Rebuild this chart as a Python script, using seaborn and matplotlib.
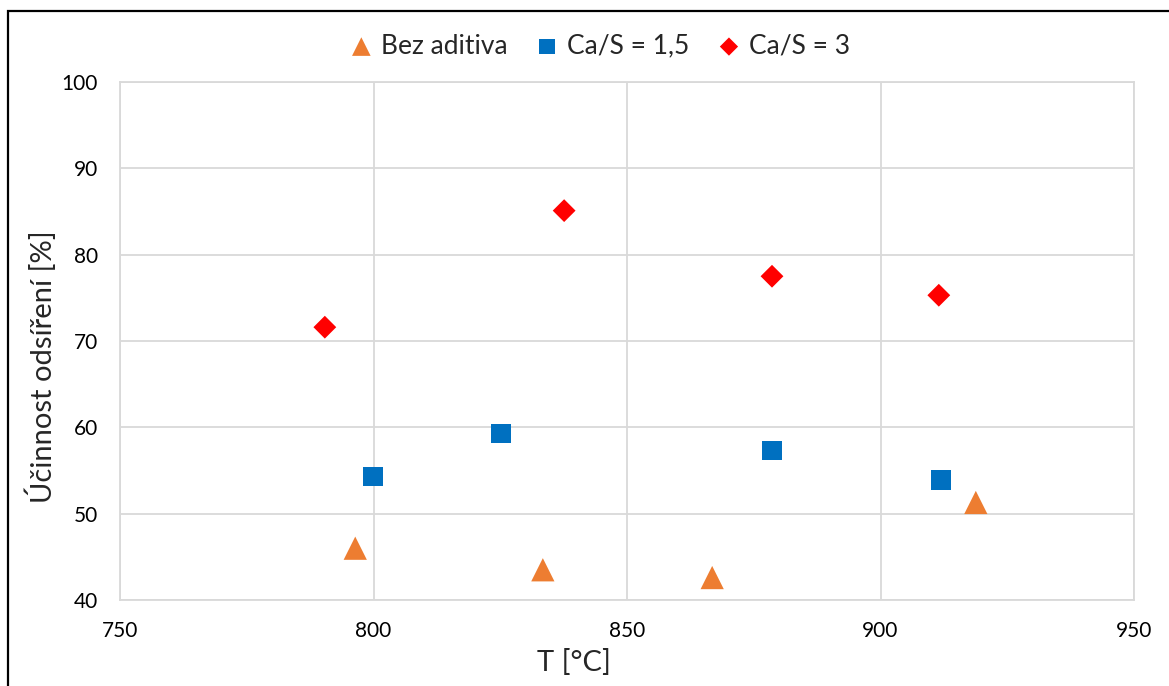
import matplotlib
matplotlib.use("Agg")
import matplotlib.pyplot as plt
import seaborn as sns
import pandas as pd
from matplotlib.patches import Rectangle

# Desulfurization efficiency vs. bed temperature
t_bez = [796.4, 833.4, 866.8, 918.8]
eff_bez = [46.0, 43.5, 42.6, 51.3]

t_ca15 = [799.9, 825.1, 878.6, 911.9]
eff_ca15 = [54.3, 59.3, 57.3, 53.9]

t_ca3 = [790.4, 837.6, 878.6, 911.5]
eff_ca3 = [71.6, 85.1, 77.5, 75.3]

series_names = ["Bez aditiva", "Ca/S = 1,5", "Ca/S = 3"]
x_ticks = [750, 800, 850, 900, 950]
y_ticks = [40, 50, 60, 70, 80, 90, 100]

sns.set_theme(style="white")
plt.rcParams["font.family"] = ["Lato", "DejaVu Sans"]

fig = plt.figure(figsize=(11.69, 6.86), dpi=100)
ax = fig.add_axes([120 / 1169, 86 / 686, 1014 / 1169, 518 / 686])

frames = [
    pd.DataFrame({"T": t_bez, "eff": eff_bez}),
    pd.DataFrame({"T": t_ca15, "eff": eff_ca15}),
    pd.DataFrame({"T": t_ca3, "eff": eff_ca3}),
]
styles = [
    dict(marker="^", color="#ED7D31", s=280),
    dict(marker="s", color="#0070C0", s=200),
    dict(marker="D", color="#FF0000", s=135),
]
for df, name, st in zip(frames, series_names, styles):
    sns.scatterplot(data=df, x="T", y="eff", ax=ax, label=name,
                    marker=st["marker"], color=st["color"], s=st["s"],
                    edgecolor="none", zorder=3)

ax.set_xlim(750, 950)
ax.set_ylim(40, 100)
ax.set_xticks(x_ticks)
ax.set_yticks(y_ticks)
ax.grid(True, color="#d9d9d9", linewidth=1.3)
ax.set_axisbelow(True)
for sp in ax.spines.values():
    sp.set_color("#d9d9d9")
    sp.set_linewidth(1.3)
ax.tick_params(axis="both", length=0, labelsize=15, colors="black")
ax.tick_params(axis="x", pad=15)
ax.tick_params(axis="y", pad=16)

ax.set_xlabel("T [°C]", fontsize=21)
ax.set_ylabel("Účinnost odsíření [%]", fontsize=21)
ax.xaxis.set_label_coords(0.448, -0.095)
ax.yaxis.set_label_coords(-0.062, 0.45)

handles, labels = ax.get_legend_handles_labels()
ax.legend_.remove()
fig.legend(handles, labels, loc="center", bbox_to_anchor=(599 / 1169, 1 - 46 / 686),
           ncol=3, frameon=False, fontsize=19, handlelength=1.0,
           handletextpad=0.25, columnspacing=1.0, markerscale=0.8)

# chart frame
fig.patches.append(Rectangle((7.5 / 1169, -0.05), 1.1, 1 - 10.5 / 686 + 0.05,
                             transform=fig.transFigure, fill=False,
                             edgecolor="black", linewidth=1.6))

fig.savefig("out.png", dpi=100, facecolor="white")
